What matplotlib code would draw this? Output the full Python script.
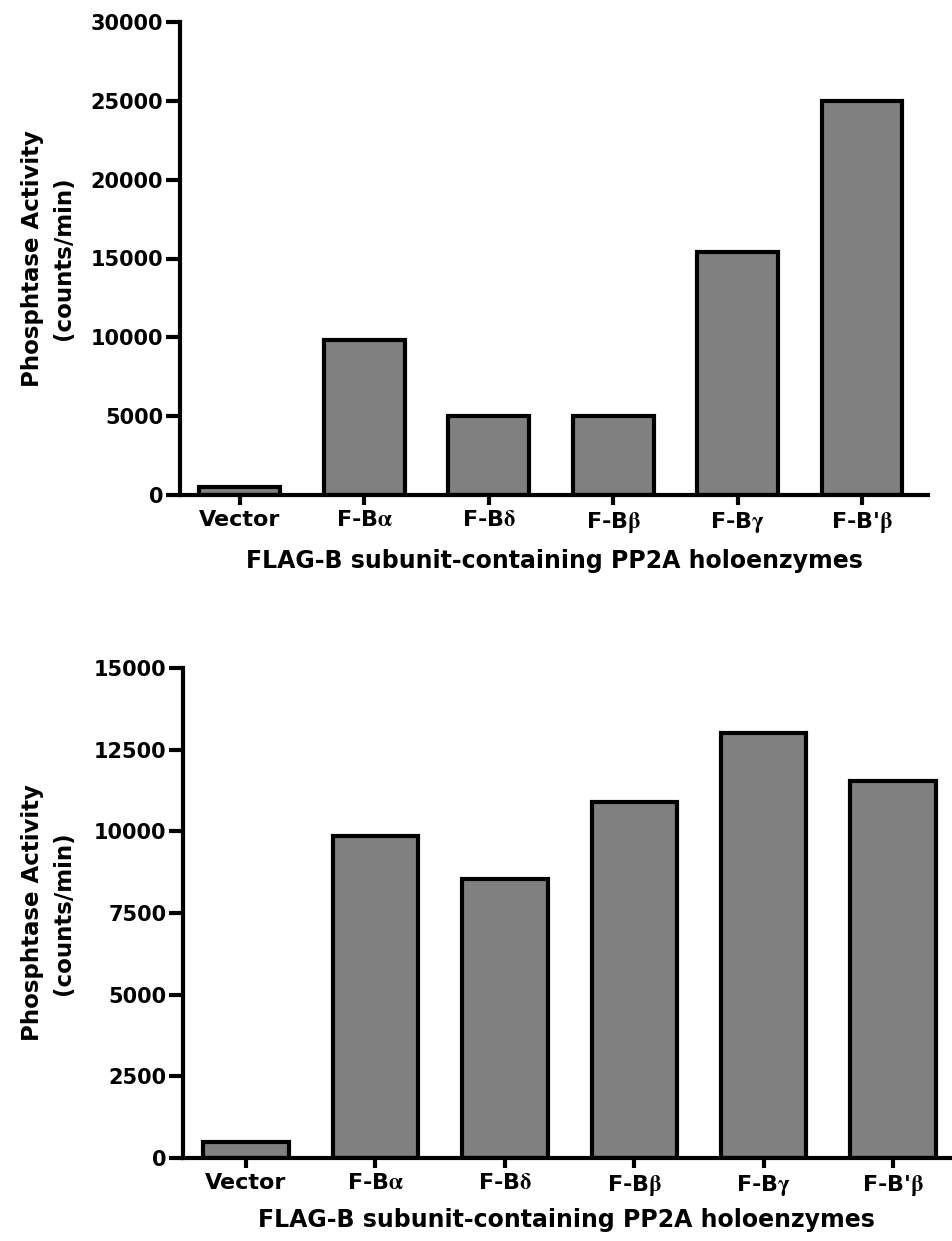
import matplotlib
matplotlib.use("Agg")
import matplotlib.pyplot as plt

plt.rcParams["font.family"] = "DejaVu Sans"
plt.rcParams["font.weight"] = "bold"
plt.rcParams["mathtext.fontset"] = "stix"

# data
categories = ["Vector", r"F-B$\mathrm{\alpha}$", r"F-B$\mathrm{\delta}$",
              r"F-B$\mathrm{\beta}$", r"F-B$\mathrm{\gamma}$", r"F-B'$\mathrm{\beta}$"]
top_values = [500, 9800, 5000, 5000, 15400, 25000]
bottom_values = [500, 9850, 8550, 10900, 13000, 11550]
top_yticks = [0, 5000, 10000, 15000, 20000, 25000, 30000]
bottom_yticks = [0, 2500, 5000, 7500, 10000, 12500, 15000]

ylabel = "Phosphtase Activity\n(counts/min)"
xlabel = "FLAG-B subunit-containing PP2A holoenzymes"

W, H = 952, 1241
fig = plt.figure(figsize=(W / 100, H / 100), dpi=100)


def px_axes(left, right, top, bottom):
    return fig.add_axes([left / W, 1 - bottom / H, (right - left) / W, (bottom - top) / H])


def draw_panel(ax, values, yticks, xlim, width, xlab_y):
    x = list(range(len(categories)))
    ax.bar(x, values, width=width, color="#808080", edgecolor="black", linewidth=3, zorder=2)
    ax.set_xlim(*xlim)
    ax.set_ylim(yticks[0], yticks[-1])
    ax.set_xticks(x)
    ax.set_xticklabels(categories, fontsize=16, fontweight="bold")
    ax.set_yticks(yticks)
    ax.set_yticklabels([str(t) for t in yticks], fontsize=15, fontweight="bold")
    for s in ["top", "right"]:
        ax.spines[s].set_visible(False)
    for s in ["left", "bottom"]:
        ax.spines[s].set_linewidth(3)
    ax.tick_params(axis="y", length=10, width=3, pad=2)
    ax.tick_params(axis="x", length=7, width=3, pad=4)
    ax.set_ylabel(ylabel, fontsize=16.5, fontweight="bold", linespacing=1.45, va="center")
    ax.yaxis.set_label_coords(-0.176, 0.5)
    ax.set_xlabel(xlabel, fontsize=17, fontweight="bold", va="top")
    ax.xaxis.set_label_coords(0.5, xlab_y)


ax1 = px_axes(180, 928, 22, 495)
draw_panel(ax1, top_values, top_yticks, (-0.48, 5.53), 0.65, -0.114)

ax2 = px_axes(183, 950, 668, 1158)
draw_panel(ax2, bottom_values, bottom_yticks, (-0.487, 5.44), 0.66, -0.102)

fig.savefig("out.png", dpi=100)
